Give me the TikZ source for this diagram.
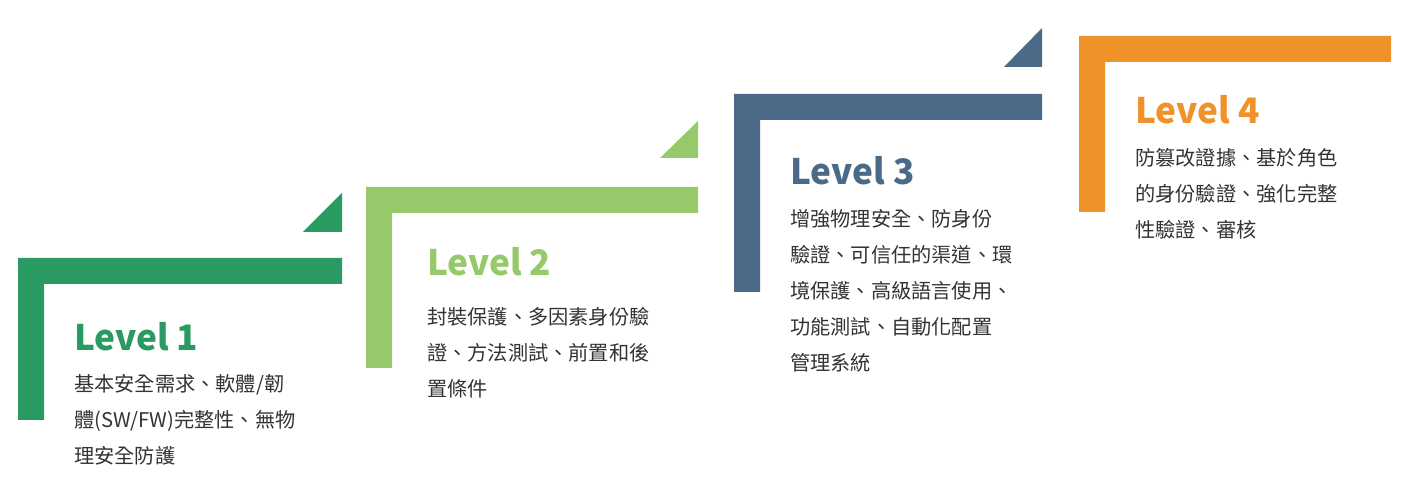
\documentclass[tikz,border=0pt]{standalone}
\usepackage{fontspec}
\setmainfont{Noto Sans CJK TC}
\definecolor{lvOne}{HTML}{2A9A63}
\definecolor{lvTwo}{HTML}{96C96A}
\definecolor{lvThree}{HTML}{4A6A87}
\definecolor{lvFour}{HTML}{F0922A}
\definecolor{bodyText}{HTML}{333333}
\begin{document}
\begin{tikzpicture}[x=0.02cm, y=-0.02cm,
                title/.style={anchor=west, font=\fontsize{20}{24}\selectfont\bfseries, inner sep=0pt},
                body/.style={anchor=north west, align=left, font=\fontsize{11.5}{20.5}\selectfont, text=bodyText, inner sep=0pt}
            ]
            \useasboundingbox (0,0) rectangle (1420,499);
            % level 1
            \fill [lvOne] (18,420) -- (18,258) -- (342,258) -- (342,284) -- (44,284) -- (44,420) -- cycle;
            \fill [lvOne] (342,193) -- (342,232) -- (303,232) -- cycle;
            \node (title1) [title, text=lvOne] at (74,337) {Level 1};
            \node (body1) [body] at (74,374) {基本安全需求、軟體/韌\\體(SW/FW)完整性、無物\\理安全防護};
            % level 2
            \fill [lvTwo] (366,368) -- (366,187) -- (698,187) -- (698,213) -- (392,213) -- (392,368) -- cycle;
            \fill [lvTwo] (698,121) -- (698,158) -- (660,158) -- cycle;
            \node (title2) [title, text=lvTwo] at (427,262) {Level 2};
            \node (body2) [body] at (427,307) {封裝保護、多因素身份驗\\證、方法測試、前置和後\\置條件};
            % level 3
            \fill [lvThree] (734,292) -- (734,94) -- (1042,94) -- (1042,120) -- (760,120) -- (760,292) -- cycle;
            \fill [lvThree] (1042,28) -- (1042,67) -- (1004,67) -- cycle;
            \node (title3) [title, text=lvThree] at (790,171) {Level 3};
            \node (body3) [body] at (790,209) {增強物理安全、防身份\\驗證、可信任的渠道、環\\境保護、高級語言使用、\\功能測試、自動化配置\\管理系統};
            % level 4
            \fill [lvFour] (1079,212) -- (1079,36) -- (1391,36) -- (1391,62) -- (1105,62) -- (1105,212) -- cycle;
            \node (title4) [title, text=lvFour] at (1135,110) {Level 4};
            \node (body4) [body] at (1135,148) {防篡改證據、基於角色\\的身份驗證、強化完整\\性驗證、審核};
        \end{tikzpicture}
\end{document}
